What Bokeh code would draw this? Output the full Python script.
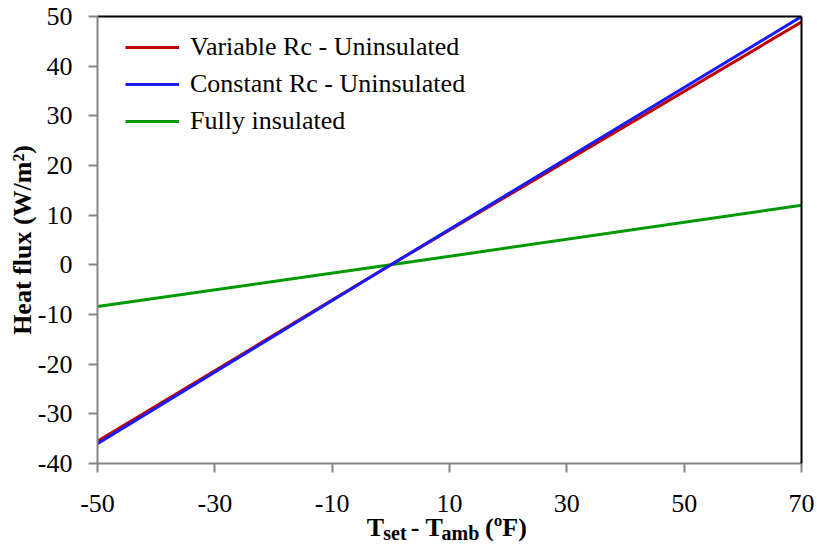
from bokeh.plotting import figure
from bokeh.models import (Range1d, LinearAxis, FixedTicker, Legend, LegendItem,
                          CustomJSTickFormatter)
from bokeh.embed import file_html
from bokeh.resources import INLINE

# ---- data ----
x_temp_diff = [-50, 0, 70]
variable_rc = [-35.5, 0.0, 48.9]
constant_rc = [-36.0, 0.0, 50.0]
fully_insulated = [-8.4, 0.0, 12.0]
x_ticks = [-50, -30, -10, 10, 30, 50, 70]
y_ticks = [-40, -30, -20, -10, 0, 10, 20, 30, 40, 50]
series_names = ["Variable Rc - Uninsulated", "Constant Rc - Uninsulated", "Fully insulated"]
x_title_main = ["T", "- T", "(ºF)"]
x_title_sub = ["set", "amb"]

FONT = "Liberation Serif"
GREY = "#868686"
W, H = 817, 546
FRAME_L, FRAME_R = 97, 801
X0, X1 = -50, 70

p = figure(width=W, height=H, output_backend="svg", toolbar_location=None,
           x_range=Range1d(X0, X1), y_range=Range1d(-40, 50),
           min_border_left=FRAME_L, min_border_right=W - FRAME_R, min_border_top=16,
           min_border_bottom=83, background_fill_color="white", border_fill_color="white")
p.xgrid.visible = False
p.ygrid.visible = False
p.outline_line_color = None

plain = CustomJSTickFormatter(code="return tick.toString();")
for ax in (p.xaxis[0], p.yaxis[0]):
    ax.axis_line_color = GREY
    ax.axis_line_width = 2
    ax.major_tick_line_color = GREY
    ax.major_tick_line_width = 2
    ax.major_tick_in = 0
    ax.major_tick_out = 9
    ax.minor_tick_line_color = None
    ax.major_label_text_font = FONT
    ax.major_label_text_font_size = "26px"
    ax.major_label_text_color = "black"
    ax.formatter = plain

p.xaxis[0].ticker = FixedTicker(ticks=x_ticks)
p.yaxis[0].ticker = FixedTicker(ticks=y_ticks)
p.xaxis[0].major_label_standoff = 22
p.yaxis[0].major_label_standoff = 16
p.xaxis[0].axis_label = None
p.yaxis[0].axis_label = "Heat flux (W/m²)"
p.yaxis[0].axis_label_text_font = FONT
p.yaxis[0].axis_label_text_font_size = "26px"
p.yaxis[0].axis_label_text_font_style = "bold"
p.yaxis[0].axis_label_text_color = "black"
p.yaxis[0].axis_label_standoff = -2

# black frame on top and right
for side in ("above", "right"):
    ax = LinearAxis(ticker=FixedTicker(ticks=[]), axis_line_color="black", axis_line_width=2,
                    major_tick_line_color=None, minor_tick_line_color=None)
    p.add_layout(ax, side)


def px_to_x(px):
    return X0 + (px - FRAME_L) * (X1 - X0) / (FRAME_R - FRAME_L)


# x-axis title "T_set - T_amb (ºF)" built from two label-only axes below the main axis
def title_axis(texts, centers_px, size, standoff):
    ax = LinearAxis(ticker=FixedTicker(ticks=[px_to_x(c) for c in centers_px]),
                    formatter=CustomJSTickFormatter(args=dict(labels=texts),
                                                    code="return labels[index];"),
                    axis_line_color=None, major_tick_line_color=None,
                    minor_tick_line_color=None, major_tick_in=0, major_tick_out=0,
                    major_label_standoff=standoff, major_label_text_font=FONT,
                    major_label_text_font_size=size, major_label_text_font_style="bold",
                    major_label_text_color="black")
    p.add_layout(ax, "below")


title_axis(x_title_sub, [394.5, 460], "20px", 7)
title_axis(x_title_main, [375, 426.5, 505.5], "26px", -34)

r_green = p.line(x_temp_diff, fully_insulated, line_color="#009A00", line_width=3)
r_red = p.line(x_temp_diff, variable_rc, line_color="#C00000", line_width=3)
r_blue = p.line(x_temp_diff, constant_rc, line_color="#1A1AFF", line_width=3)

legend = Legend(items=[LegendItem(label=series_names[0], renderers=[r_red]),
                       LegendItem(label=series_names[1], renderers=[r_blue]),
                       LegendItem(label=series_names[2], renderers=[r_green])],
                location=(28, 327), glyph_width=54, glyph_height=30, label_standoff=11,
                spacing=7, padding=0, margin=0, border_line_color=None,
                background_fill_alpha=0, label_text_font=FONT, label_text_font_size="26px",
                label_text_color="black")
p.add_layout(legend)

open("out.html", "w").write(file_html(p, INLINE))
